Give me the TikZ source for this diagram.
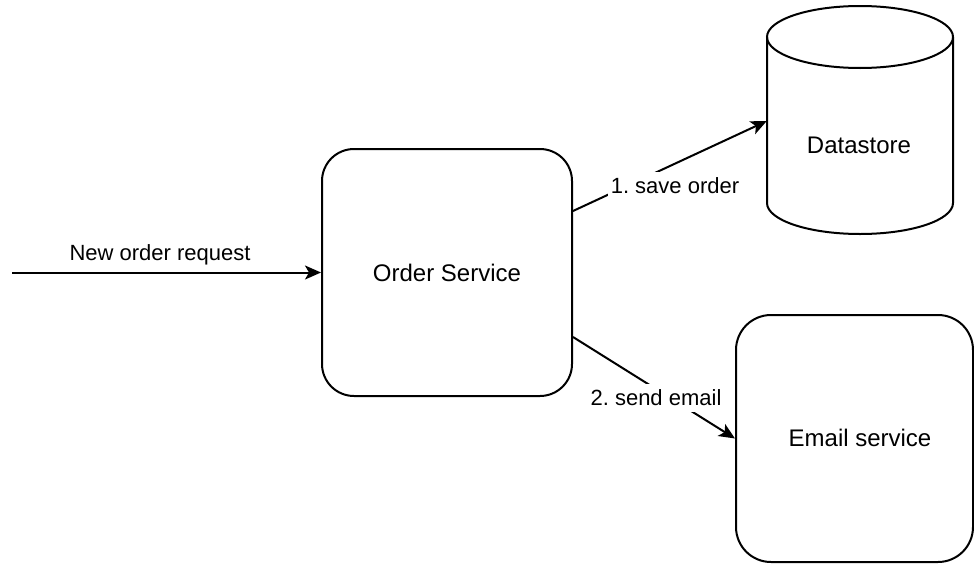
\documentclass[tikz,border=0pt]{standalone}
\usepackage{fontspec}
\setmainfont{Liberation Sans}
\usetikzlibrary{arrows.meta}
\frenchspacing
\tikzset{
  box/.style={draw, line width=2pt, rounded corners=32pt, inner sep=0pt},
  area/.style={inner sep=0pt},
  txt/.style={font=\fontsize{24}{28}\selectfont, inner sep=0pt},
  lbl/.style={font=\fontsize{22}{26}\selectfont, fill=white, inner xsep=3pt, inner ysep=0pt, minimum height=28pt},
  conn/.style={line width=2pt, -{Stealth[length=16pt,width=14pt,inset=4pt]}},
  outline/.style={line width=2pt}
}
\begin{document}
\begin{tikzpicture}[x=1pt,y=-1pt]
\useasboundingbox (0,0) rectangle (974,565);

% Order service
\node[box, minimum width=250pt, minimum height=247pt] (os) at (447,272.5) {};
\node[txt] (ostxt) at (447,272.5) {Order Service};

% Email service
\node[box, rounded corners=35pt, minimum width=237pt, minimum height=247pt] (em) at (854.5,438.5) {};
\node[txt] (emtxt) at (860,438) {Email service};

% Datastore cylinder
\node[area, minimum width=186pt, minimum height=227pt] (ds) at (860,121) {};
\draw[outline] (860,37) ellipse [x radius=93, y radius=31];
\draw[outline] (767,37) -- (767,203)
  arc[start angle=180, end angle=0, x radius=93, y radius=31] -- (953,37);
\node[txt] (dstxt) at (859,145) {Datastore};

% Incoming request
\coordinate (src) at (12,272.5);
\draw[conn] (src) -- (os.west);
\node[lbl, fill=none] (reqlbl) at (160,255) {New order request};

% Outgoing calls
\draw[conn] ([yshift=61.5pt]os.east) -- (ds.west);
\node[lbl] (savelbl) at (675,186) {1. save order};
\draw[conn] ([yshift=-64.5pt]os.east) -- (em.west);
\node[lbl] (maillbl) at (656,398) {2. send email};
\end{tikzpicture}
\end{document}
